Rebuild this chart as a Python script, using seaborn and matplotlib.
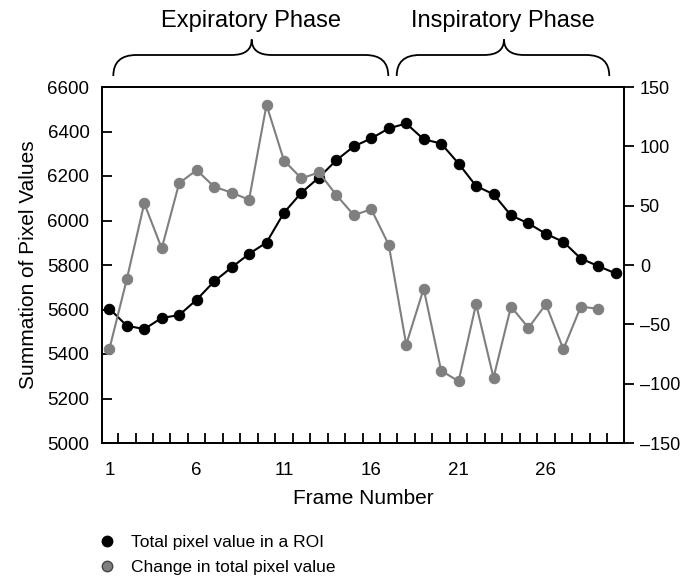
import matplotlib
matplotlib.use('Agg')
import matplotlib.pyplot as plt
from matplotlib.path import Path
from matplotlib.patches import PathPatch
from matplotlib.lines import Line2D
import seaborn as sns

# values
frames = list(range(1, 31))
total_pixel = [5604, 5527, 5512, 5562, 5575, 5644, 5726, 5789, 5850, 5901,
               6035, 6125, 6193, 6271, 6333, 6369, 6414, 6436, 6365, 6346,
               6256, 6155, 6118, 6023, 5987, 5940, 5904, 5829, 5795, 5762]
change_frames = list(range(1, 30))
change_pixel = [-71, -12, 52, 14, 69, 80, 66, 61, 55, 135,
                88, 73, 78, 59, 42, 47, 17, -67, -20, -89,
                -98, -33, -95, -35, -53, -33, -71, -35, -37]
frame_ticks = [1, 6, 11, 16, 21, 26]
left_ticks = [5000, 5200, 5400, 5600, 5800, 6000, 6200, 6400, 6600]
right_ticks = [-150, -100, -50, 0, 50, 100, 150]
phase_names = ['Expiratory Phase', 'Inspiratory Phase']
legend_labels = ['Total pixel value in a ROI', 'Change in total pixel value']

sns.set_style('ticks')
plt.rcParams['font.family'] = ['Liberation Sans', 'DejaVu Sans']
plt.rcParams.update({'text.color': 'black', 'axes.labelcolor': 'black',
                     'xtick.color': 'black', 'ytick.color': 'black'})

W, H = 681, 581
fig = plt.figure(figsize=(W / 100, H / 100), dpi=100)
ax = fig.add_axes([102 / W, 1 - 443 / H, 522.5 / W, 356 / H])
ax2 = ax.twinx()

sns.lineplot(x=frames, y=total_pixel, ax=ax, color='black', marker='o',
             markersize=7.5, markeredgecolor='black', linewidth=1.5)
sns.lineplot(x=change_frames, y=change_pixel, ax=ax2, color='#7f7f7f', marker='o',
             markersize=7.5, markeredgecolor='#7f7f7f', linewidth=1.5)

ax.set_xlim(0.58, 30.5)
ax.set_ylim(5000, 6600)
ax2.set_ylim(-150, 150)
ax.set_xticks(frame_ticks)
ax.set_xticks([f + 0.5 for f in frames[:-1]], minor=True)
ax.set_yticks(left_ticks)
ax2.set_yticks(right_ticks)
ax2.set_yticklabels([str(t).replace('-', '\u2013') for t in right_ticks])

for a in (ax, ax2):
    for s in a.spines.values():
        s.set_visible(True)
        s.set_color('black')
        s.set_linewidth(1.3)

ax.tick_params(axis='y', direction='in', length=7, width=1.3, pad=9, labelsize=13.5)
ax.tick_params(axis='x', which='major', length=0, pad=14, labelsize=13.5)
ax.tick_params(axis='x', which='minor', direction='in', length=7, width=1.3)
ax2.tick_params(axis='y', direction='out', length=7, width=1.3, pad=4, labelsize=13)

ax.set_xlabel('Frame Number', fontsize=15, labelpad=7)
ax.set_ylabel('Summation of Pixel Values', fontsize=15, labelpad=7)
ax2.set_ylabel('')

# curly braces over the two phases (pixel coords of the reference)
braces = [(113.3, 388.3, 251.7), (396.7, 609.3, 504.0)]
yb, yh, yt = 76, 55, 39.5
r1, r2 = 23, 20

def fx(px):
    return px / W

def fy(py):
    return 1 - py / H

for (x0, x1, xm), name in zip(braces, phase_names):
    verts = [(x0, yb), (x0, yh), (x0 + r1, yh),
             (xm - r2, yh), (xm, yh), (xm, yt),
             (xm, yh), (xm + r2, yh),
             (x1 - r1, yh), (x1, yh), (x1, yb)]
    codes = [Path.MOVETO, Path.CURVE3, Path.CURVE3,
             Path.LINETO, Path.CURVE3, Path.CURVE3,
             Path.CURVE3, Path.CURVE3,
             Path.LINETO, Path.CURVE3, Path.CURVE3]
    path = Path([(fx(x), fy(y)) for x, y in verts], codes)
    fig.patches.append(PathPatch(path, transform=fig.transFigure, fill=False,
                                 edgecolor='black', linewidth=1.3))
    fig.text(fx(xm - 1), fy(27), name, ha='center', va='baseline', fontsize=17)

handles = [Line2D([], [], linestyle='none', marker='o', markersize=7.5,
                  color='black', markeredgecolor='black'),
           Line2D([], [], linestyle='none', marker='o', markersize=7.5,
                  color='#7f7f7f', markeredgecolor='#444444')]
fig.legend(handles, legend_labels, loc='upper left', bbox_to_anchor=(98 / W, 1 - 535 / H),
           frameon=False, fontsize=12.5, handlelength=1.0, handletextpad=0.9,
           labelspacing=0.55, borderpad=0, borderaxespad=0)

fig.savefig('out.png', dpi=100)
